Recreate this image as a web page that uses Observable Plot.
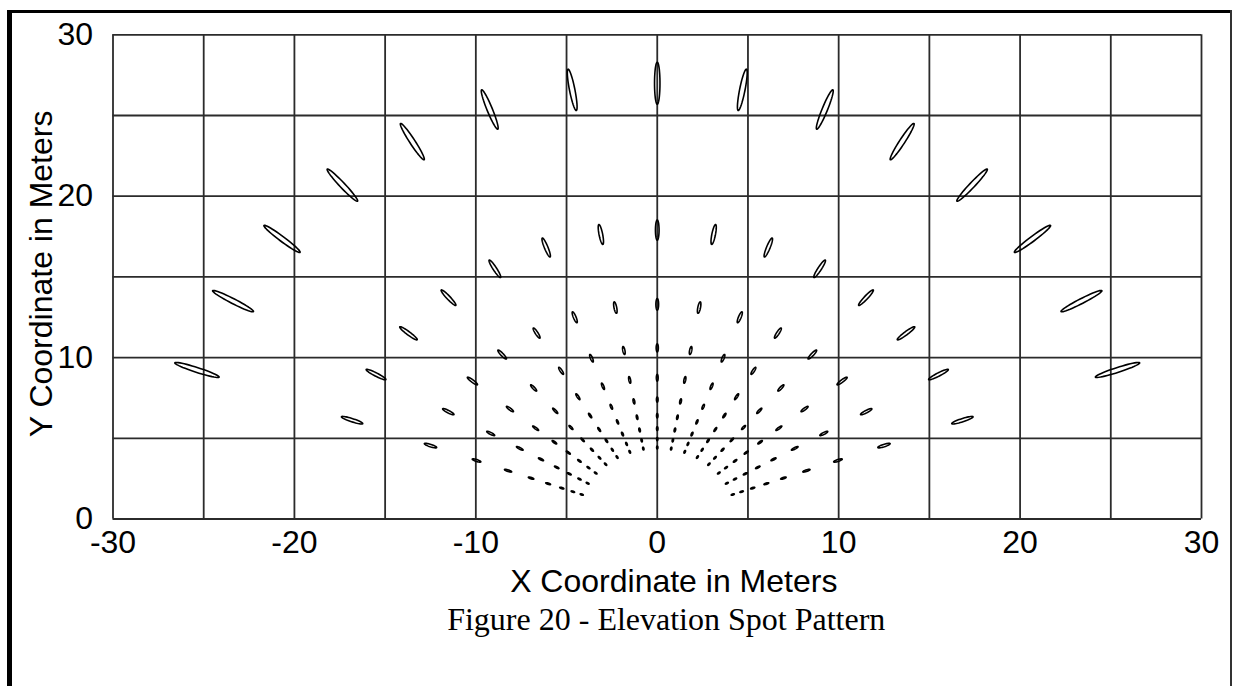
<!DOCTYPE html>
<html>
<head>
<meta charset="utf-8">
<script src="https://cdn.jsdelivr.net/npm/d3@7"></script>
<script src="https://cdn.jsdelivr.net/npm/@observablehq/plot@0.6"></script>
<style>
  html, body { margin: 0; padding: 0; background: #fff; overflow: hidden; }
  #page { position: relative; width: 1236px; height: 686px; overflow: hidden; background: #fff; }
  #chart { position: absolute; left: 0; top: 0; }
  .bar { position: absolute; background: #000; }
</style>
</head>
<body>
<div id="page">
  <div id="chart"></div>
  <div class="bar" style="left:7px; top:9.5px; width:5px; height:700px;"></div>
  <div class="bar" style="left:7px; top:9.5px; width:1225px; height:3.5px;"></div>
  <div class="bar" style="left:1230px; top:9.5px; width:2px; height:700px; background:#333;"></div>
</div>
<script>
// ---- data ----
// azimuth of each ray of spots, degrees from the +Y axis (negative = toward -X)
const rayAngles = [-70, -60, -50, -40, -30, -20, -10, 0, 10, 20, 30, 40, 50, 60, 70];
// ground distance (m) of each ring of spots
const ringRadii = [27, 17.9, 13.3, 10.6, 8.75, 7.4, 6.4, 5.6, 4.95, 4.43];
// spot length along the ray (m) and width across it (m), per ring
const spotLength = [2.6, 1.25, 0.72, 0.5, 0.42, 0.32, 0.28, 0.24, 0.2, 0.18];
const spotWidth  = [0.3, 0.2, 0.15, 0.12, 0.1, 0.09, 0.08, 0.08, 0.07, 0.07];
// axes
const xTicks = [-30, -20, -10, 0, 10, 20, 30];
const yTicks = [0, 10, 20, 30];
const xGrid = [-30, -25, -20, -15, -10, -5, 0, 5, 10, 15, 20, 25, 30];
const yGrid = [0, 5, 10, 15, 20, 25, 30];
const xTitle = "X Coordinate in Meters";
const yTitle = "Y Coordinate in Meters";
const caption = "Figure 20 - Elevation Spot Pattern";

// ---- build spot outlines (ellipse shape around each spot centre) ----
const spots = [];
rayAngles.forEach((a, i) => {
  ringRadii.forEach((r, j) => {
    spots.push({id: `${i}-${j}`, angle: a, r, len: spotLength[j], wid: spotWidth[j]});
  });
});
const outline = [];
const N = 48;
for (const s of spots) {
  const th = s.angle * Math.PI / 180;
  const ux = Math.sin(th), uy = Math.cos(th);   // radial direction
  const vx = Math.cos(th), vy = -Math.sin(th);  // across
  const cx = s.r * ux, cy = s.r * uy;
  for (let k = 0; k < N; k++) {
    const t = 2 * Math.PI * k / N;
    const a = (s.len / 2) * Math.cos(t), b = (s.wid / 2) * Math.sin(t);
    outline.push({id: s.id, x: cx + a * ux + b * vx, y: cy + a * uy + b * vy});
  }
}

const chart = Plot.plot({
  width: 1236,
  height: 686,
  marginLeft: 112.5,
  marginRight: 35,
  marginTop: 34.3,
  marginBottom: 167.5,
  style: {fontFamily: "'Liberation Sans', Arial, sans-serif", fontSize: "32px", color: "#000", background: "transparent"},
  x: {domain: [-30, 30], ticks: xTicks, tickSize: 0, tickPadding: 11, tickFormat: d => String(d), label: null},
  y: {domain: [0, 30], ticks: yTicks, tickSize: 0, tickPadding: 20, tickFormat: d => String(d), label: null},
  marks: [
    Plot.gridX(xGrid, {stroke: "#2b2b2b", strokeOpacity: 1, strokeWidth: 1.8}),
    Plot.gridY(yGrid, {stroke: "#2b2b2b", strokeOpacity: 1, strokeWidth: 1.8}),
    Plot.line(outline, {x: "x", y: "y", z: "id", curve: "linear-closed", stroke: "#000", strokeWidth: 1.6, fill: "none"}),
    Plot.text([xTitle], {frameAnchor: "bottom", lineAnchor: "bottom", textAnchor: "middle", dy: 72.5, dx: 16.5, fontSize: 32, fill: "#000"}),
    Plot.text([yTitle], {frameAnchor: "left", lineAnchor: "bottom", textAnchor: "middle", rotate: -90, dx: -61, dy: -3, fontSize: 32, fill: "#000"}),
    Plot.text([caption], {frameAnchor: "bottom", lineAnchor: "bottom", textAnchor: "middle", dy: 110.5, dx: 9, fontSize: 32, fill: "#000",
      fontFamily: "'Liberation Serif', 'Times New Roman', serif"})
  ]
});
document.getElementById("chart").appendChild(chart);
</script>
</body>
</html>
